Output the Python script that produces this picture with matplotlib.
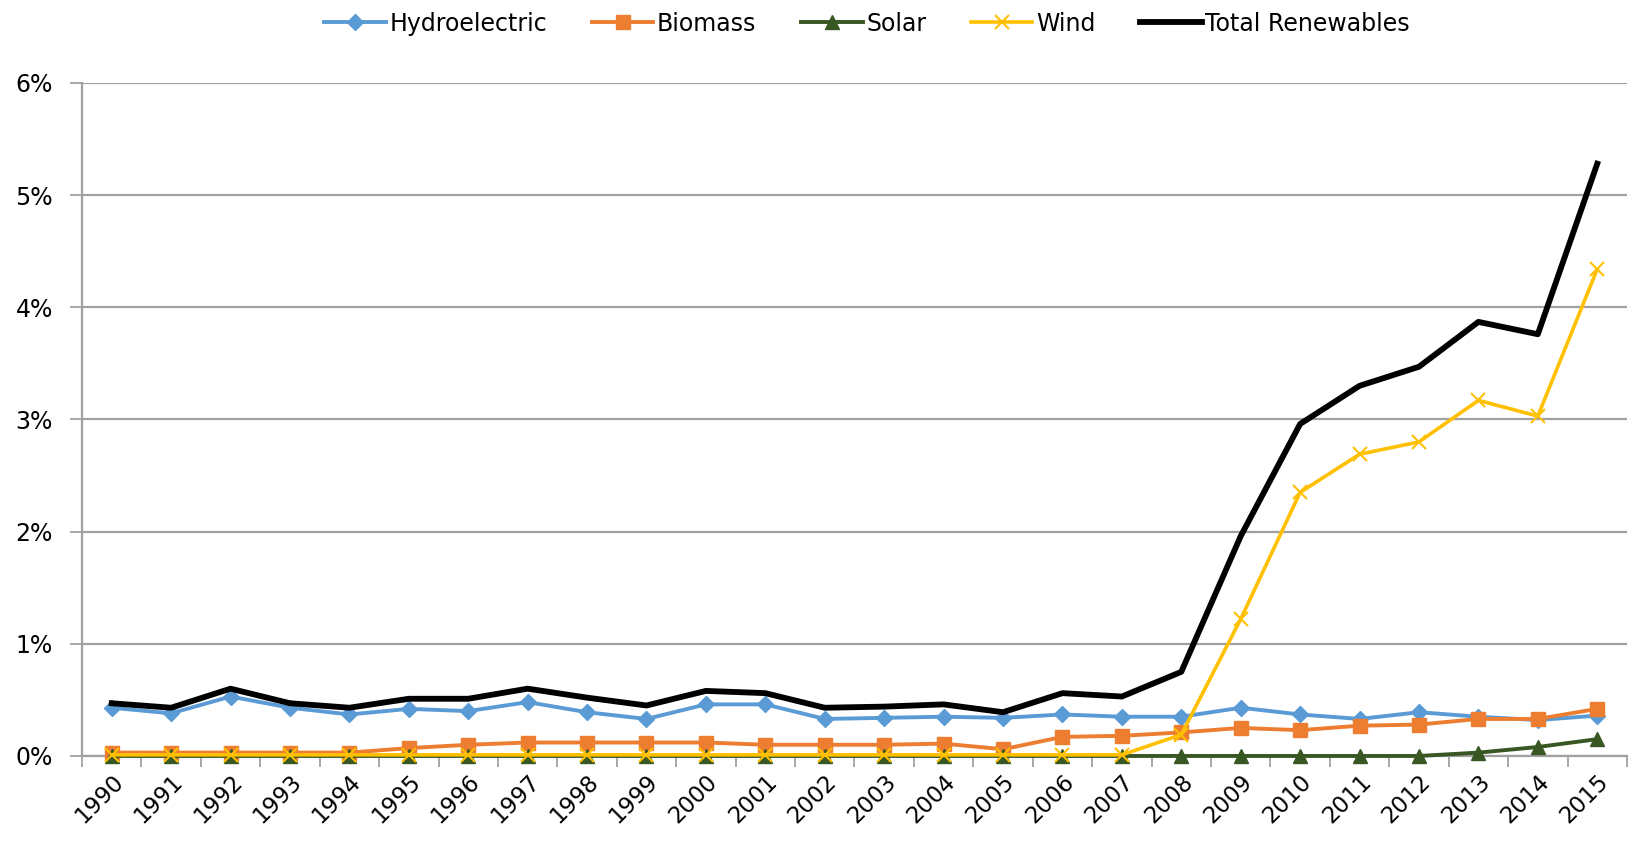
import matplotlib.pyplot as plt
from matplotlib.ticker import FixedLocator, FuncFormatter

years = list(range(1990, 2016))

hydro = [0.43, 0.38, 0.53, 0.43, 0.37, 0.42, 0.40, 0.48, 0.39, 0.33, 0.46, 0.46,
         0.33, 0.34, 0.35, 0.34, 0.37, 0.35, 0.35, 0.43, 0.37, 0.33, 0.39, 0.35,
         0.32, 0.36]
biomass = [0.03, 0.03, 0.03, 0.03, 0.03, 0.07, 0.10, 0.12, 0.12, 0.12, 0.12, 0.10,
           0.10, 0.10, 0.11, 0.06, 0.17, 0.18, 0.21, 0.25, 0.23, 0.27, 0.28, 0.33,
           0.33, 0.42]
solar = [0.0] * 22 + [0.0, 0.03, 0.08, 0.15]
wind = [0.01] * 18 + [0.19, 1.22, 2.35, 2.69, 2.80, 3.17, 3.03, 4.34]
total = [0.47, 0.43, 0.60, 0.47, 0.43, 0.51, 0.51, 0.60, 0.52, 0.45, 0.58, 0.56,
         0.43, 0.44, 0.46, 0.39, 0.56, 0.53, 0.75, 1.96, 2.96, 3.30, 3.47, 3.87,
         3.76, 5.28]

plt.rcParams['font.family'] = ['DejaVu Sans']

fig = plt.figure(figsize=(16.33, 8.44), dpi=100)
ax = fig.add_axes([0.0502, 0.1043, 0.9461, 0.7974])

x = list(range(len(years)))
ax.plot(x, hydro, color='#5B9BD5', lw=2.8, marker='D', ms=8, label='Hydroelectric',
        zorder=3, clip_on=False)
ax.plot(x, biomass, color='#ED7D31', lw=2.8, marker='s', ms=10, label='Biomass',
        zorder=3, clip_on=False)
ax.plot(x, solar, color='#385723', lw=2.8, marker='^', ms=10, label='Solar',
        zorder=4, clip_on=False)
ax.plot(x, wind, color='#FFC000', lw=2.6, marker='x', ms=10, mew=1.5, label='Wind',
        zorder=4, clip_on=False)
ax.plot(x, total, color='black', lw=4.2, label='Total Renewables', zorder=5)

ax.set_xlim(-0.5, len(years) - 0.5)
ax.set_ylim(0, 6)
ax.set_yticks(range(0, 7))
ax.yaxis.set_major_formatter(FuncFormatter(lambda v, p: f'{int(v)}%'))
ax.grid(axis='y', color='#a0a0a0', lw=1.6)
ax.set_axisbelow(True)

ax.set_xticks(x)
ax.set_xticklabels([str(y) for y in years], rotation=45, ha='right', va='top',
                   rotation_mode='anchor', fontsize=16.5)
ax.xaxis.set_minor_locator(FixedLocator([i - 0.5 for i in range(len(years) + 1)]))
ax.tick_params(axis='x', which='major', length=0, pad=10)
ax.tick_params(axis='x', which='minor', length=8, color='#a0a0a0', width=1.3)
ax.tick_params(axis='y', length=9, color='#a0a0a0', width=1.3, labelsize=17, pad=12)

for s in ['top', 'right']:
    ax.spines[s].set_visible(False)
for s in ['left', 'bottom']:
    ax.spines[s].set_color('#a0a0a0')
    ax.spines[s].set_linewidth(1.6)

fig.legend(loc='center', bbox_to_anchor=(0.531, 0.972), ncol=5, frameon=False,
           fontsize=17, handlelength=2.6, handletextpad=0.15, columnspacing=1.9)

fig.savefig('out.png', dpi=100)
